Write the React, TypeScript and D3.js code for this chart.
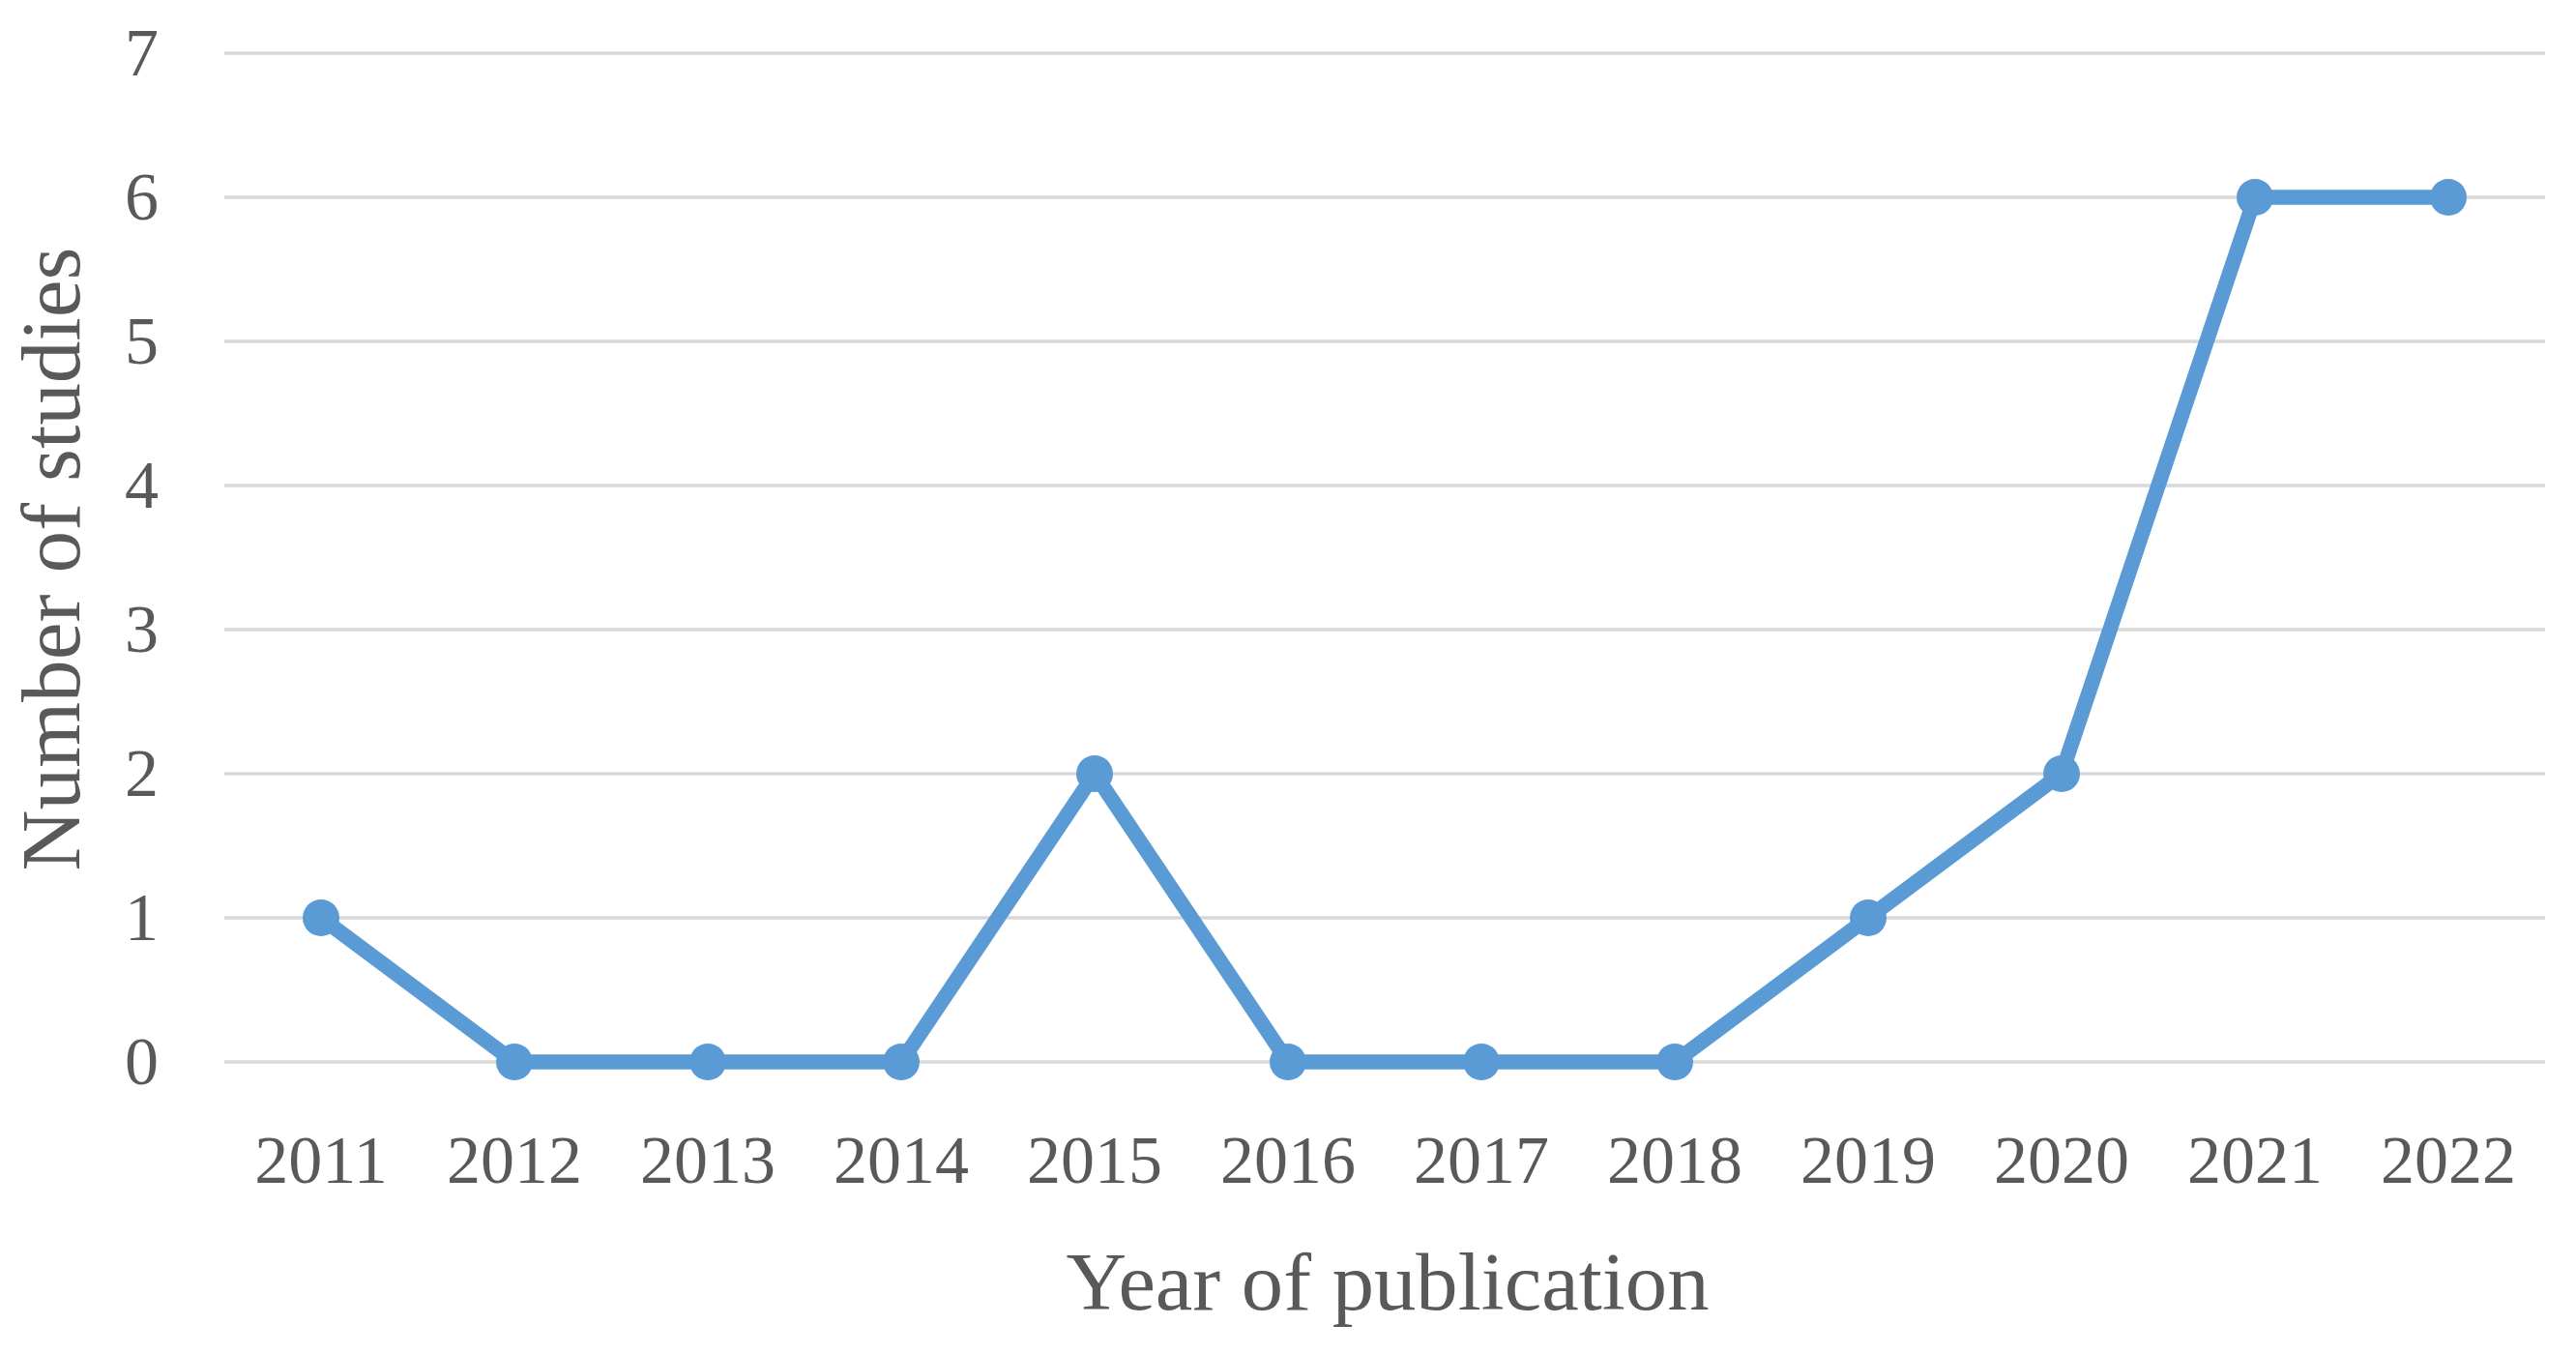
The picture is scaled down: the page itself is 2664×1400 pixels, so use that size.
import React from "react";
import * as d3 from "d3";

const years = ["2011","2012","2013","2014","2015","2016","2017","2018","2019","2020","2021","2022"];
const studies = [1, 0, 0, 0, 2, 0, 0, 0, 1, 2, 6, 6];
const yTicks = [0, 1, 2, 3, 4, 5, 6, 7];
const xTitle = "Year of publication";
const yTitle = "Number of studies";

const W = 2664, H = 1400;
const FONT = "'Liberation Serif', 'DejaVu Serif', serif";
const TEXT = "#595959";
const BLUE = "#5B9BD5";

export default function App() {
  const x = d3.scaleBand<string>().domain(years).range([232, 2632]);
  const y = d3.scaleLinear().domain([0, 7]).range([1098, 55]);
  const line = d3.line<number>()
    .x((_, i) => (x(years[i]) as number) + x.bandwidth() / 2)
    .y((d) => y(d));
  const fs = 70;
  return (
    <svg width={W} height={H} style={{ position: "absolute", left: 0, top: 0, background: "#fff" }}>
      <rect width={W} height={H} fill="#fff" />
      {yTicks.map((t) => (
        <g key={t}>
          <line x1={232} x2={2632} y1={y(t)} y2={y(t)} stroke="#d9d9d9" strokeWidth={3.5} />
          <text x={164} y={y(t) + fs * 0.33} textAnchor="end" fontFamily={FONT} fontSize={fs} fill={TEXT}>{t}</text>
        </g>
      ))}
      {years.map((yr) => (
        <text key={yr} x={(x(yr) as number) + x.bandwidth() / 2} y={1223} textAnchor="middle"
          fontFamily={FONT} fontSize={fs} fill={TEXT}>{yr}</text>
      ))}
      <path d={line(studies) || ""} fill="none" stroke={BLUE} strokeWidth={15.5} strokeLinejoin="round" strokeLinecap="round" />
      {studies.map((v, i) => (
        <circle key={i} cx={(x(years[i]) as number) + x.bandwidth() / 2} cy={y(v)} r={19} fill={BLUE} />
      ))}
      <text x={1435} y={1354} textAnchor="middle" fontFamily={FONT} fontSize={84} fill={TEXT}
        textLength={665} lengthAdjust="spacingAndGlyphs">{xTitle}</text>
      <text transform={`translate(82, 578) rotate(-90)`} textAnchor="middle" fontFamily={FONT} fontSize={86} fill={TEXT}
        textLength={645} lengthAdjust="spacingAndGlyphs">{yTitle}</text>
    </svg>
  );
}
